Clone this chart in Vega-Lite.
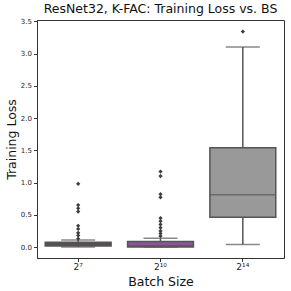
{
  "$schema": "https://vega.github.io/schema/vega-lite/v6.json",
  "width": 247,
  "height": 238,
  "autosize": "none",
  "padding": {"left": 37, "top": 20, "right": 7, "bottom": 33},
  "background": "white",
  "config": {
    "font": "DejaVu Sans",
    "view": {"stroke": "#333333", "strokeWidth": 1},
    "axis": {"labelFont": "DejaVu Sans", "titleFont": "DejaVu Sans", "labelColor": "#262626", "titleColor": "#111111", "domainColor": "#333333", "tickColor": "#333333", "grid": false, "labelOverlap": false}
  },
  "title": {"text": "ResNet32, K-FAC: Training Loss vs. BS", "fontSize": 12.5, "fontWeight": "normal", "font": "DejaVu Sans", "color": "#111111", "offset": 2, "frame": "group", "anchor": "middle"},
  "datasets": {
    "boxes": [
      {"bs": "2⁷", "lo": 0.0, "q1": 0.015, "med": 0.04, "q3": 0.075, "hi": 0.11},
      {"bs": "2¹⁰", "lo": 0.0, "q1": 0.0, "med": 0.02, "q3": 0.085, "hi": 0.135},
      {"bs": "2¹⁴", "lo": 0.04, "q1": 0.46, "med": 0.81, "q3": 1.54, "hi": 3.1}
    ],
    "outliers": [
      {"bs": "2⁷", "loss": 0.98},
      {"bs": "2⁷", "loss": 0.65},
      {"bs": "2⁷", "loss": 0.6},
      {"bs": "2⁷", "loss": 0.55},
      {"bs": "2⁷", "loss": 0.33},
      {"bs": "2⁷", "loss": 0.28},
      {"bs": "2⁷", "loss": 0.22},
      {"bs": "2⁷", "loss": 0.18},
      {"bs": "2⁷", "loss": 0.13},
      {"bs": "2¹⁰", "loss": 1.17},
      {"bs": "2¹⁰", "loss": 1.1},
      {"bs": "2¹⁰", "loss": 0.82},
      {"bs": "2¹⁰", "loss": 0.77},
      {"bs": "2¹⁰", "loss": 0.45},
      {"bs": "2¹⁰", "loss": 0.4},
      {"bs": "2¹⁰", "loss": 0.35},
      {"bs": "2¹⁰", "loss": 0.3},
      {"bs": "2¹⁰", "loss": 0.25},
      {"bs": "2¹⁰", "loss": 0.21},
      {"bs": "2¹⁰", "loss": 0.17},
      {"bs": "2¹⁴", "loss": 3.34}
    ]
  },
  "encoding": {
    "x": {"field": "bs", "type": "nominal", "sort": ["2⁷", "2¹⁰", "2¹⁴"],
      "scale": {"paddingInner": 0, "paddingOuter": 0},
      "axis": {"title": "Batch Size", "titleFontSize": 12.5, "titleFontWeight": "normal", "labelFontSize": 9, "labelAngle": 0, "tickSize": 3.5, "labelPadding": 1, "titlePadding": 4}}
  },
  "layer": [
    {
      "data": {"name": "boxes"},
      "mark": {"type": "rule", "color": "#555555", "strokeWidth": 1.5},
      "encoding": {
        "y": {"field": "lo", "type": "quantitative", "scale": {"domain": [-0.17, 3.52], "nice": false, "zero": false},
          "axis": {"title": "Training Loss", "titleFontSize": 12.5, "titleFontWeight": "normal", "labelFontSize": 7, "values": [0, 0.5, 1, 1.5, 2, 2.5, 3, 3.5], "format": ".1f", "tickSize": 3.5, "labelPadding": 2, "titlePadding": 2}},
        "y2": {"field": "hi"}
      }
    },
    {
      "data": {"name": "boxes"},
      "mark": {"type": "tick", "color": "#555555", "thickness": 1.5, "size": 34},
      "encoding": {"y": {"field": "lo", "type": "quantitative", "scale": {"domain": [-0.17, 3.52], "nice": false, "zero": false},
          "axis": {"title": "Training Loss", "titleFontSize": 12.5, "titleFontWeight": "normal", "labelFontSize": 7, "values": [0, 0.5, 1, 1.5, 2, 2.5, 3, 3.5], "format": ".1f", "tickSize": 3.5, "labelPadding": 2, "titlePadding": 2}}}
    },
    {
      "data": {"name": "boxes"},
      "mark": {"type": "tick", "color": "#555555", "thickness": 1.5, "size": 34},
      "encoding": {"y": {"field": "hi", "type": "quantitative", "scale": {"domain": [-0.17, 3.52], "nice": false, "zero": false},
          "axis": {"title": "Training Loss", "titleFontSize": 12.5, "titleFontWeight": "normal", "labelFontSize": 7, "values": [0, 0.5, 1, 1.5, 2, 2.5, 3, 3.5], "format": ".1f", "tickSize": 3.5, "labelPadding": 2, "titlePadding": 2}}}
    },
    {
      "data": {"name": "boxes"},
      "mark": {"type": "bar", "width": {"band": 0.8}, "stroke": "#555555", "strokeWidth": 1.5},
      "encoding": {
        "y": {"field": "q1", "type": "quantitative", "scale": {"domain": [-0.17, 3.52], "nice": false, "zero": false},
          "axis": {"title": "Training Loss", "titleFontSize": 12.5, "titleFontWeight": "normal", "labelFontSize": 7, "values": [0, 0.5, 1, 1.5, 2, 2.5, 3, 3.5], "format": ".1f", "tickSize": 3.5, "labelPadding": 2, "titlePadding": 2}},
        "y2": {"field": "q3"},
        "color": {"field": "bs", "type": "nominal", "legend": null,
          "scale": {"domain": ["2⁷", "2¹⁰", "2¹⁴"], "range": ["#574a4d", "#8d539c", "#999999"]}}
      }
    },
    {
      "data": {"name": "boxes"},
      "mark": {"type": "tick", "color": "#555555", "thickness": 1.5, "size": 66},
      "encoding": {"y": {"field": "med", "type": "quantitative", "scale": {"domain": [-0.17, 3.52], "nice": false, "zero": false},
          "axis": {"title": "Training Loss", "titleFontSize": 12.5, "titleFontWeight": "normal", "labelFontSize": 7, "values": [0, 0.5, 1, 1.5, 2, 2.5, 3, 3.5], "format": ".1f", "tickSize": 3.5, "labelPadding": 2, "titlePadding": 2}}}
    },
    {
      "data": {"name": "outliers"},
      "mark": {"type": "point", "shape": "diamond", "filled": true, "color": "#3d3d3d", "size": 18, "opacity": 1},
      "encoding": {"y": {"field": "loss", "type": "quantitative", "scale": {"domain": [-0.17, 3.52], "nice": false, "zero": false},
          "axis": {"title": "Training Loss", "titleFontSize": 12.5, "titleFontWeight": "normal", "labelFontSize": 7, "values": [0, 0.5, 1, 1.5, 2, 2.5, 3, 3.5], "format": ".1f", "tickSize": 3.5, "labelPadding": 2, "titlePadding": 2}}}
    }
  ]
}
